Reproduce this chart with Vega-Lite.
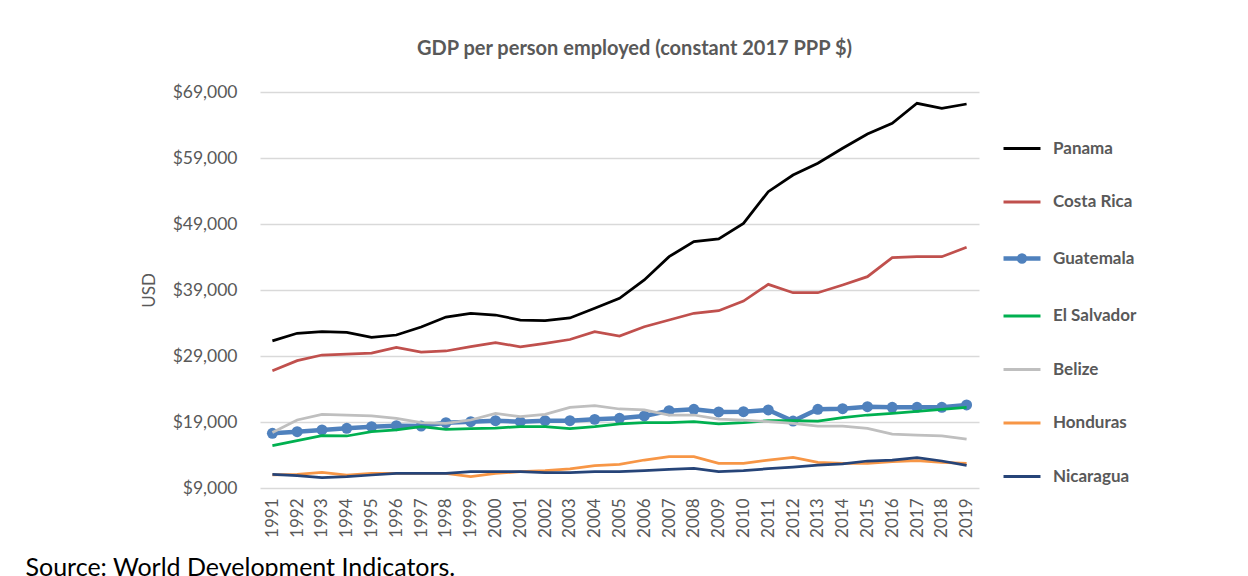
{
  "$schema": "https://vega.github.io/schema/vega-lite/v6.json",
  "width": 719,
  "height": 396,
  "autosize": {"type": "none"},
  "padding": {"left": 260, "top": 92, "right": 269, "bottom": 88},
  "background": "white",
  "config": {"font": "Lato", "view": {"stroke": null}},
  "title": {
    "text": "GDP per person employed (constant 2017 PPP $)",
    "fontSize": 20,
    "fontWeight": "bold",
    "color": "#595959",
    "font": "Lato",
    "offset": 8,
    "dx": 15,
    "baseline": "alphabetic",
    "anchor": "middle"
  },
  "data": {
    "values": [
      {"year": "1991", "Panama": 31300, "Costa Rica": 26780, "Guatemala": 17280, "El Salvador": 15410, "Belize": 17400, "Honduras": 10970, "Nicaragua": 11070},
      {"year": "1992", "Panama": 32440, "Costa Rica": 28290, "Guatemala": 17530, "El Salvador": 16170, "Belize": 19300, "Honduras": 11070, "Nicaragua": 10860},
      {"year": "1993", "Panama": 32680, "Costa Rica": 29150, "Guatemala": 17790, "El Salvador": 16920, "Belize": 20160, "Honduras": 11380, "Nicaragua": 10560},
      {"year": "1994", "Panama": 32590, "Costa Rica": 29300, "Guatemala": 18040, "El Salvador": 16880, "Belize": 20060, "Honduras": 10970, "Nicaragua": 10710},
      {"year": "1995", "Panama": 31830, "Costa Rica": 29450, "Guatemala": 18290, "El Salvador": 17530, "Belize": 19910, "Honduras": 11220, "Nicaragua": 10970},
      {"year": "1996", "Panama": 32180, "Costa Rica": 30320, "Guatemala": 18440, "El Salvador": 17790, "Belize": 19560, "Honduras": 11220, "Nicaragua": 11220},
      {"year": "1997", "Panama": 33400, "Costa Rica": 29600, "Guatemala": 18390, "El Salvador": 18290, "Belize": 18890, "Honduras": 11220, "Nicaragua": 11220},
      {"year": "1998", "Panama": 34900, "Costa Rica": 29760, "Guatemala": 18890, "El Salvador": 17890, "Belize": 18800, "Honduras": 11220, "Nicaragua": 11220},
      {"year": "1999", "Panama": 35470, "Costa Rica": 30410, "Guatemala": 19050, "El Salvador": 17990, "Belize": 19300, "Honduras": 10710, "Nicaragua": 11470},
      {"year": "2000", "Panama": 35210, "Costa Rica": 31020, "Guatemala": 19200, "El Salvador": 18090, "Belize": 20310, "Honduras": 11220, "Nicaragua": 11470},
      {"year": "2001", "Panama": 34450, "Costa Rica": 30400, "Guatemala": 19050, "El Salvador": 18290, "Belize": 19800, "Honduras": 11470, "Nicaragua": 11470},
      {"year": "2002", "Panama": 34350, "Costa Rica": 30920, "Guatemala": 19200, "El Salvador": 18290, "Belize": 20160, "Honduras": 11620, "Nicaragua": 11320},
      {"year": "2003", "Panama": 34760, "Costa Rica": 31500, "Guatemala": 19200, "El Salvador": 17990, "Belize": 21220, "Honduras": 11900, "Nicaragua": 11320},
      {"year": "2004", "Panama": 36230, "Costa Rica": 32680, "Guatemala": 19400, "El Salvador": 18290, "Belize": 21470, "Honduras": 12380, "Nicaragua": 11470},
      {"year": "2005", "Panama": 37740, "Costa Rica": 32030, "Guatemala": 19560, "El Salvador": 18700, "Belize": 20970, "Honduras": 12590, "Nicaragua": 11470},
      {"year": "2006", "Panama": 40520, "Costa Rica": 33440, "Guatemala": 19910, "El Salvador": 18890, "Belize": 20820, "Honduras": 13240, "Nicaragua": 11620},
      {"year": "2007", "Panama": 44050, "Costa Rica": 34450, "Guatemala": 20710, "El Salvador": 18890, "Belize": 20060, "Honduras": 13740, "Nicaragua": 11830},
      {"year": "2008", "Panama": 46320, "Costa Rica": 35470, "Guatemala": 20920, "El Salvador": 19050, "Belize": 20060, "Honduras": 13740, "Nicaragua": 11980},
      {"year": "2009", "Panama": 46730, "Costa Rica": 35860, "Guatemala": 20520, "El Salvador": 18700, "Belize": 19450, "Honduras": 12740, "Nicaragua": 11470},
      {"year": "2010", "Panama": 49100, "Costa Rica": 37330, "Guatemala": 20560, "El Salvador": 18890, "Belize": 19300, "Honduras": 12740, "Nicaragua": 11620},
      {"year": "2011", "Panama": 53900, "Costa Rica": 39860, "Guatemala": 20820, "El Salvador": 19200, "Belize": 19050, "Honduras": 13240, "Nicaragua": 11930},
      {"year": "2012", "Panama": 56420, "Costa Rica": 38590, "Guatemala": 19150, "El Salvador": 19200, "Belize": 18800, "Honduras": 13650, "Nicaragua": 12180},
      {"year": "2013", "Panama": 58200, "Costa Rica": 38590, "Guatemala": 20920, "El Salvador": 19150, "Belize": 18390, "Honduras": 12890, "Nicaragua": 12480},
      {"year": "2014", "Panama": 60470, "Costa Rica": 39760, "Guatemala": 21020, "El Salvador": 19650, "Belize": 18390, "Honduras": 12740, "Nicaragua": 12640},
      {"year": "2015", "Panama": 62640, "Costa Rica": 41020, "Guatemala": 21320, "El Salvador": 20060, "Belize": 18040, "Honduras": 12740, "Nicaragua": 13090},
      {"year": "2016", "Panama": 64260, "Costa Rica": 43900, "Guatemala": 21220, "El Salvador": 20310, "Belize": 17180, "Honduras": 12990, "Nicaragua": 13240},
      {"year": "2017", "Panama": 67290, "Costa Rica": 44050, "Guatemala": 21220, "El Salvador": 20610, "Belize": 17030, "Honduras": 13140, "Nicaragua": 13590},
      {"year": "2018", "Panama": 66530, "Costa Rica": 44050, "Guatemala": 21220, "El Salvador": 20920, "Belize": 16880, "Honduras": 12890, "Nicaragua": 13090},
      {"year": "2019", "Panama": 67180, "Costa Rica": 45470, "Guatemala": 21580, "El Salvador": 21220, "Belize": 16420, "Honduras": 12740, "Nicaragua": 12440}
    ]
  },
  "transform": [
    {"fold": ["Panama", "Costa Rica", "Guatemala", "El Salvador", "Belize", "Honduras", "Nicaragua"], "as": ["country", "gdp"]}
  ],
  "encoding": {
    "x": {
      "field": "year",
      "type": "ordinal",
      "scale": {"type": "point", "padding": 0.5},
      "axis": {
        "labelAngle": -90,
        "labelFont": "Lato",
        "labelFontSize": 17,
        "labelColor": "#595959",
        "labelPadding": 10,
        "ticks": false,
        "domain": false,
        "grid": false,
        "title": "Source: World Development Indicators.",
        "titleFont": "Lato",
        "titleFontSize": 25,
        "titleFontWeight": "normal",
        "titleColor": "#000000",
        "titleAnchor": "start",
        "titleAlign": "left",
        "titleBaseline": "alphabetic",
        "titleX": -235,
        "titleY": 87
      }
    },
    "y": {
      "field": "gdp",
      "type": "quantitative",
      "scale": {"domain": [9000, 69000], "nice": false, "zero": false},
      "axis": {
        "values": [9000, 19000, 29000, 39000, 49000, 59000, 69000],
        "format": "$,.0f",
        "grid": true,
        "gridColor": "#d9d9d9",
        "gridWidth": 1.3,
        "domain": false,
        "ticks": false,
        "labelFont": "Lato",
        "labelFontSize": 17.5,
        "labelColor": "#595959",
        "labelPadding": 23,
        "title": "USD",
        "titleFont": "Lato",
        "titleFontSize": 17,
        "titleFontWeight": "normal",
        "titleColor": "#595959",
        "titleAngle": 270,
        "titleAlign": "center",
        "titleBaseline": "middle",
        "titleX": -111,
        "titleY": 198
      }
    },
    "color": {
      "field": "country",
      "type": "nominal",
      "scale": {
        "domain": ["Panama", "Costa Rica", "Guatemala", "El Salvador", "Belize", "Honduras", "Nicaragua"],
        "range": ["#000000", "#c0504d", "#4f81bd", "#00b050", "#bfbfbf", "#f79646", "#264478"]
      },
      "legend": {
        "orient": "none",
        "legendX": 753.5,
        "legendY": 48,
        "title": null,
        "padding": 0,
        "symbolType": "stroke",
        "symbolSize": 1367,
        "symbolStrokeWidth": 3,
        "labelFont": "Lato",
        "labelFontSize": 17,
        "labelFontWeight": "bold",
        "labelColor": "#595959",
        "labelOffset": 22.5,
        "labelLimit": 300,
        "rowPadding": 35.5,
        "encode": {
          "symbols": {
            "update": {
              "strokeWidth": {"signal": "datum.value === 'Guatemala' ? 4.5 : 3"},
              "shape": {"signal": "datum.value === 'Guatemala' ? 'M-1,0L1,0M0.16,0A0.16,0.16,0,1,1,-0.16,0A0.16,0.16,0,1,1,0.16,0Z' : 'stroke'"},
              "fill": {"signal": "datum.value === 'Guatemala' ? '#4f81bd' : 'transparent'"}
            }
          }
        }
      }
    }
  },
  "layer": [
    {
      "transform": [{"filter": "datum.country === 'Panama' || datum.country === 'Costa Rica'"}],
      "mark": {"type": "line", "strokeWidth": 2.75}
    },
    {
      "transform": [{"filter": "datum.country === 'Guatemala'"}],
      "mark": {"type": "line", "strokeWidth": 4.5}
    },
    {
      "transform": [{"filter": "datum.country === 'Guatemala'"}],
      "mark": {"type": "point", "filled": true, "size": 120, "opacity": 1}
    },
    {
      "transform": [{"filter": "datum.country !== 'Panama' && datum.country !== 'Costa Rica' && datum.country !== 'Guatemala'"}],
      "mark": {"type": "line", "strokeWidth": 2.75}
    }
  ]
}
